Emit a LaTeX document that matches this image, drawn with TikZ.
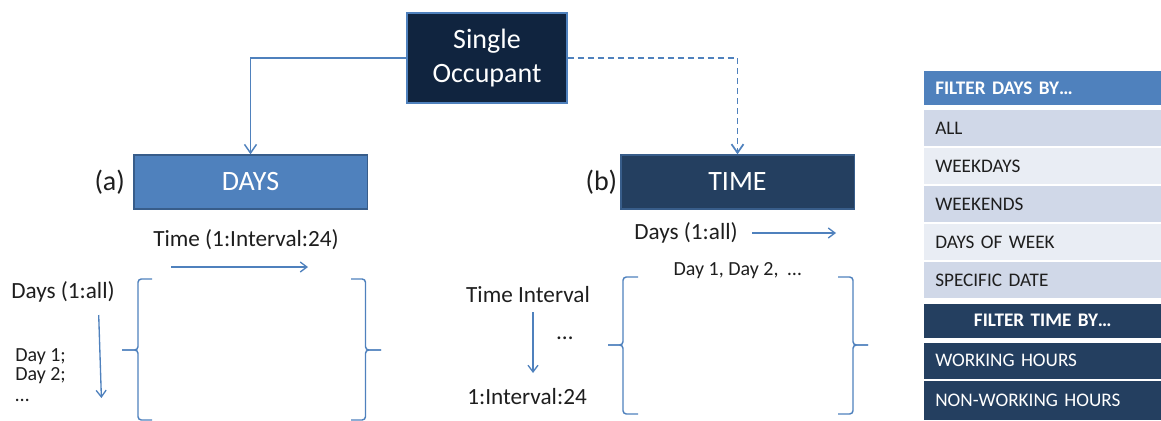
\documentclass[tikz,border=0pt]{standalone}
\usepackage{fontspec}
\setmainfont{Carlito}
\usetikzlibrary{positioning, arrows.meta}

\definecolor{linkblue}{RGB}{79,129,189}
\definecolor{edgeblue}{RGB}{56,93,138}
\definecolor{darknavy}{RGB}{16,36,63}
\definecolor{midnavy}{RGB}{36,63,96}
\definecolor{rowdark}{RGB}{208,216,232}
\definecolor{rowlight}{RGB}{233,237,244}
\definecolor{inktext}{RGB}{30,30,30}

\tikzset{
	headbox/.style = {draw = edgeblue, line width = 1pt, minimum width = 175pt, minimum height = 40.5pt,
		inner sep = 0pt, align = center, text = white, font = \fontsize{21}{25.5}\selectfont},
	tag/.style = {inner sep = 1pt, text = inktext, font = \fontsize{21}{25}\selectfont},
	link/.style = {draw = linkblue, line width = 1.1pt, -{Straight Barb[length = 6.5pt, width = 9pt]}},
	axis/.style = {draw = linkblue, line width = 1pt, -{Straight Barb[length = 5pt, width = 7.5pt]}},
	axislabel/.style = {inner sep = 0pt, text = inktext, font = \fontsize{17.4}{20}\selectfont},
	smalllabel/.style = {inner sep = 0pt, text = inktext, font = \fontsize{15}{14.3}\selectfont},
	bracket/.style = {draw = linkblue, line width = 1.1pt, rounded corners = 2.5pt},
	filterrow/.style = {anchor = west, minimum height = 27pt, text width = 161.25pt, inner xsep = 8.25pt,
		inner ysep = 0pt, align = left, text = inktext, font = \fontsize{14.4}{17}\selectfont},
	filterhead/.style = {filterrow, minimum height = 25.5pt, text = white, font = \fontsize{14.4}{17}\selectfont\bfseries}
}

\begin{document}
\begin{tikzpicture}[x = 0.75pt, y = -0.75pt]
	\useasboundingbox (0,0) rectangle (1161,421);

	\node[headbox, fill = darknavy, draw = linkblue, minimum width = 120pt, minimum height = 67.5pt] (occ) at (487,58) {Single\\Occupant};
	\node[headbox, fill = linkblue] (days) at (250.5,182) {DAYS};
	\node[headbox, fill = midnavy] (time) at (737.5,182) {TIME};
	\node[tag, left = 5pt of days] (tagA) {(a)};
	\node[tag, left = 1pt of time] (tagB) {(b)};

	\draw[link] (occ.west) -| (days.north);
	\draw[link, line width = 1.3pt, dash pattern = on 4.5pt off 3pt] (occ.east) -| (time.north);

	% layout (a): days down, time across
	\node[axislabel] (timeA) at (246,240) {Time (1:Interval:24)};
	\coordinate (timeAfrom) at (171,267);
	\coordinate (timeAto) at (308,267);
	\draw[axis] (timeAfrom) -- (timeAto);
	\node[axislabel] (daysA) at (63,292) {Days (1:all)};
	\coordinate (daysAfrom) at (98.7,315);
	\coordinate (daysAto) at (101.4,398);
	\draw[axis] (daysAfrom) -- (daysAto);
	\node[smalllabel, anchor = north west, align = left] (dayList) at (15,348) {Day 1;\\Day 2;\\[2pt]…};
	\draw[bracket] (152,279) -- (138,279) -- (138,350) -- (122,350);
	\draw[bracket] (152,420) -- (138,420) -- (138,350) -- (122,350);
	\draw[bracket] (351,279) -- (365.5,279) -- (365.5,350) -- (381,350);
	\draw[bracket] (351,420) -- (365.5,420) -- (365.5,350) -- (381,350);

	% layout (b): time down, days across
	\node[axislabel] (timeB) at (528,295) {Time Interval};
	\coordinate (timeBfrom) at (533,312);
	\coordinate (timeBto) at (533,373);
	\draw[axis] (timeBfrom) -- (timeBto);
	\node[axislabel] (timeDots) at (565,338) {…};
	\node[axislabel] (timeEnd) at (527,397) {1:Interval:24};
	\node[axislabel] (daysB) at (686,233) {Days (1:all)};
	\coordinate (daysBfrom) at (752,233);
	\coordinate (daysBto) at (836,233);
	\draw[axis] (daysBfrom) -- (daysBto);
	\node[smalllabel] (dayRow) at (737.5,271) {Day 1, Day 2,\ \ …};
	\draw[bracket] (638,277) -- (623,277) -- (623,345) -- (608,345);
	\draw[bracket] (638,414) -- (623,414) -- (623,345) -- (608,345);
	\draw[bracket] (838,277) -- (853,277) -- (853,345) -- (868,345);
	\draw[bracket] (838,414) -- (853,414) -- (853,345) -- (868,345);

	% filter panel
	\node[filterhead, fill = linkblue] (daysHead) at (924,88) {FILTER DAYS BY…};
	\foreach \rowtext/\rowfill [count = \i] in {ALL/rowdark, WEEKDAYS/rowlight, WEEKENDS/rowdark, DAYS OF WEEK/rowlight, SPECIFIC DATE/rowdark}
		\node[filterrow, fill = \rowfill] (dayRow\i) at (924,{90 + 38*\i}) {\rowtext};
	\node[filterhead, fill = midnavy, align = center] (timeHead) at (924,320.5) {FILTER TIME BY…};
	\node[filterrow, fill = midnavy, text = white] (timeRow1) at (924,360.5) {WORKING HOURS};
	\node[filterrow, fill = midnavy, text = white, minimum height = 29pt] (timeRow2) at (924,400.5) {NON-WORKING HOURS};
\end{tikzpicture}
\end{document}
